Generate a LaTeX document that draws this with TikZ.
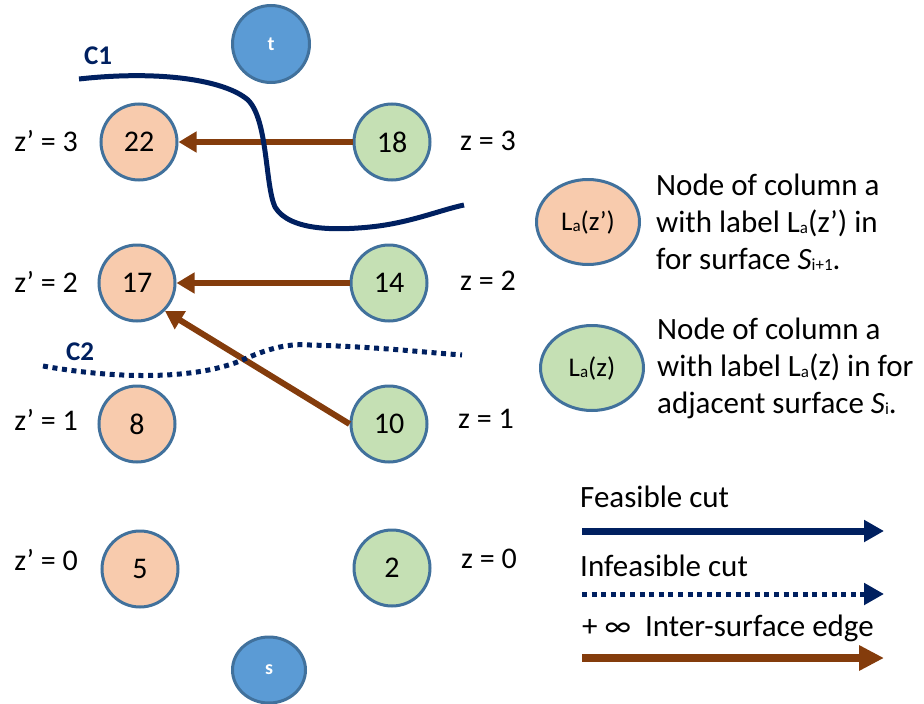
\documentclass[tikz,border=0pt]{standalone}
\usepackage{fontspec}
\setmainfont{Carlito}
\usetikzlibrary{arrows.meta,shapes.geometric}
\definecolor{peachfill}{HTML}{F8CBAD}
\definecolor{leaffill}{HTML}{C5E0B4}
\definecolor{ringblue}{HTML}{41719C}
\definecolor{termblue}{HTML}{5B9BD5}
\definecolor{navy}{HTML}{002060}
\definecolor{rust}{HTML}{843C0C}
\newcommand{\subsm}[1]{\raisebox{-1.5pt}{\fontsize{17}{17}\selectfont #1}}
\begin{document}
\begin{tikzpicture}[x=1pt,y=-1pt,
  vnode/.style={circle, draw=ringblue, line width=3pt, minimum size=76pt, inner sep=0pt,
    font=\fontsize{30}{32}\selectfont},
  prime/.style={vnode, fill=peachfill},
  adj/.style={vnode, fill=leaffill},
  term/.style={fill=termblue, draw=ringblue, line width=3pt, inner sep=0pt,
    text=white, font=\bfseries\fontsize{20}{22}\selectfont},
  lvl/.style={font=\fontsize{30}{32}\selectfont},
  legtext/.style={anchor=west, align=left, font=\fontsize{31}{37}\selectfont, inner sep=0pt},
  keyell/.style={ellipse, draw=ringblue, line width=3pt, minimum width=103pt, minimum height=85pt,
    inner sep=0pt, font=\fontsize{27}{29}\selectfont},
  edgearrow/.style={draw=rust, line width=6pt, -{Triangle[length=18pt,width=20pt]}},
  cutline/.style={draw=navy, line width=5pt},
  cutdots/.style={draw=navy, line width=5pt, dash pattern=on 5pt off 4.6pt},
  cutname/.style={text=navy, font=\bfseries\fontsize{27}{30}\selectfont}]
\useasboundingbox (0,0) rectangle (924,704);

% terminal nodes
\node[term, circle, minimum size=77pt] (t) at (271,44) {t};
\node[term, ellipse, minimum width=73pt, minimum height=66pt] (s) at (269,670) {s};

% column nodes of surface S_{i+1}
\node[prime] (n22) at (139,142) {22};
\node[prime] (n17) at (137,283) {17};
\node[prime] (n8)  at (137,424) {8};
\node[prime] (n5)  at (140,569) {5};

% column nodes of surface S_i
\node[adj] (n18) at (392,142) {18};
\node[adj] (n14) at (389,283) {14};
\node[adj] (n10) at (389,424) {10};
\node[adj] (n2)  at (392,568) {2};

% level labels
\node[lvl] (lp3) at (46,141) {z’ = 3};
\node[lvl] (lp2) at (46,282) {z’ = 2};
\node[lvl] (lp1) at (46,420) {z’ = 1};
\node[lvl] (lp0) at (46,560) {z’ = 0};
\node[lvl] (l3) at (488,141) {z = 3};
\node[lvl] (l2) at (488,281) {z = 2};
\node[lvl] (l1) at (486,419) {z = 1};
\node[lvl] (l0) at (489,559) {z = 0};

% inter-surface edges
\draw[edgearrow] (n18.west) -- (n22.east);
\draw[edgearrow] (n14.west) -- (n17.east);
\draw[edgearrow] (n10.west) -- (n17.-45);

% cuts
\draw[cutline] (79,79) .. controls (160,70) and (225,80) .. (248,100)
  .. controls (268,120) and (265,185) .. (275,207)
  .. controls (290,232) and (340,230) .. (370,227)
  .. controls (410,223) and (440,210) .. (464,205);
\node[cutname] (c1) at (98,56) {C1};

\draw[cutdots] (43,366) .. controls (110,378) and (190,381) .. (240,361)
  .. controls (265,350) and (285,343) .. (310,345)
  .. controls (380,347) and (420,352) .. (462,355);
\node[cutname] (c2) at (80,352) {C2};

% legend: node kinds
\node[keyell, fill=peachfill] (kp) at (588,222) {L\subsm{a}(z’)};
\node[legtext] (kpt) at (656,222) {Node of column a\\with label L\subsm{a}(z’) in\\for surface \textit{S}\subsm{i+1}.};
\node[keyell, fill=leaffill] (ka) at (592,368) {L\subsm{a}(z)};
\node[legtext] (kat) at (657,368) {Node of column a\\with label L\subsm{a}(z) in for\\adjacent surface \textit{S}\subsm{i}.};

% legend: line kinds
\node[legtext] (kf) at (580,497) {Feasible cut};
\coordinate (fa) at (582,531);
\coordinate (fb) at (884,531);
\draw[cutline, line width=7pt, -{Triangle[length=20pt,width=21pt]}] (fa) -- (fb);

\node[legtext] (ki) at (580,566) {Infeasible cut};
\coordinate (ia) at (582,594);
\coordinate (ib) at (884,594);
\draw[cutdots, -{Triangle[length=20pt,width=21pt]}] (ia) -- (ib);

\node[legtext] (ke) at (582,628) {+ ∞\ \ Inter-surface edge};
\coordinate (ea) at (582,658);
\coordinate (eb) at (884,658);
\draw[edgearrow, line width=8pt, -{Triangle[length=25pt,width=24pt]}] (ea) -- (eb);
\end{tikzpicture}
\end{document}
